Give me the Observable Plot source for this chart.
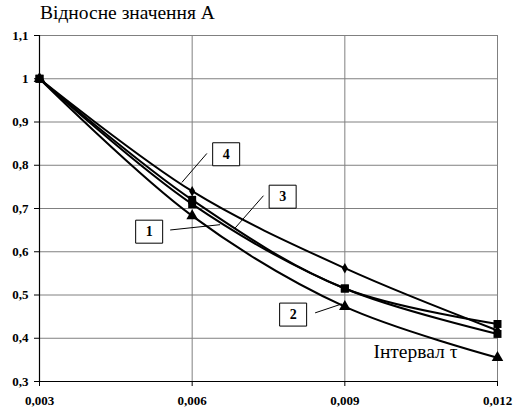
<!DOCTYPE html>
<html>
<head>
<meta charset="utf-8">
<script src="https://cdn.jsdelivr.net/npm/d3@7"></script>
<script src="https://cdn.jsdelivr.net/npm/@observablehq/plot@0.6"></script>
<style>
  html, body { margin: 0; padding: 0; background: #fff; }
  #title { height: 28px; line-height: 25px; padding-left: 40px; font-family: "Liberation Serif", serif;
           font-size: 19.5px; color: #000; white-space: nowrap; }
  #chart svg { display: block; }
</style>
</head>
<body>
<div id="title"></div>
<div id="chart"></div>
<script>
// ---- data ----
const titleText = "Відносне значення А";
const xLabelText = "Інтервал τ";
const xTicks = [0.003, 0.006, 0.009, 0.012];
const yTicks = [0.3, 0.4, 0.5, 0.6, 0.7, 0.8, 0.9, 1, 1.1];

const xValues = [0.003, 0.006, 0.009, 0.012];
const series1 = [1, 0.71, 0.515, 0.41];   // squares
const series2 = [1, 0.683, 0.473, 0.355]; // triangles
const series3 = [1, 0.72, 0.515, 0.433];  // squares
const series4 = [1, 0.74, 0.562, 0.418];  // diamonds

// callout labels (data coordinates)
const labelNames = ["1", "2", "3", "4"];
const labelX = [0.005155, 0.007984, 0.007778, 0.006668];
const labelY = [0.6464, 0.4547, 0.7273, 0.8254];
const leaderX1 = [0.005568, 0.008416, 0.007401, 0.006289];
const leaderY1 = [0.6503, 0.4587, 0.7296, 0.8273];
const leaderX2 = [0.00655, 0.008941, 0.006845, 0.005798];
const leaderY2 = [0.6626, 0.4794, 0.655, 0.7603];

// ---- tables built from the arrays ----
const seriesList = [
  {name: "4", values: series4, symbol: "diamond", r: 3.2},
  {name: "1", values: series1, symbol: "square", r: 4.5},
  {name: "3", values: series3, symbol: "square", r: 4.5},
  {name: "2", values: series2, symbol: "triangle", r: 4.3}
];
const rows = seriesList.flatMap(s => xValues.map((x, i) => ({series: s.name, x: x, y: s.values[i]})));
const labels = labelNames.map((n, i) => ({
  name: n, x: labelX[i], y: labelY[i],
  x1: leaderX1[i], y1: leaderY1[i], x2: leaderX2[i], y2: leaderY2[i]
}));

document.getElementById("title").textContent = titleText;

const fmt = d => String(d).replace(".", ",");
const boxSymbol = { draw(ctx) { ctx.rect(-13.5, -11.5, 27, 23); } };
const FONT = "Liberation Serif";

const marks = [
  Plot.gridY({ticks: yTicks, stroke: "#808080", strokeOpacity: 1}),
  Plot.gridX({ticks: xTicks, stroke: "#808080", strokeOpacity: 1}),
  Plot.axisY({ticks: yTicks, tickSize: 5, tickPadding: 6, tickFormat: fmt, label: null,
              fontSize: 13, fontWeight: "bold", fontFamily: FONT}),
  Plot.axisX({ticks: xTicks, tickSize: 5, tickPadding: 9, tickFormat: fmt, label: null,
              fontSize: 13, fontWeight: "bold", fontFamily: FONT}),
  Plot.ruleX([xTicks[0]], {stroke: "#000", strokeWidth: 1.2}),
  Plot.ruleY([yTicks[0]], {stroke: "#000", strokeWidth: 1.2})
];
for (const s of seriesList) {
  const d = rows.filter(r => r.series === s.name);
  marks.push(Plot.line(d, {x: "x", y: "y", curve: "catmull-rom", stroke: "#000", strokeWidth: 2}));
}
for (const s of seriesList) {
  const d = rows.filter(r => r.series === s.name);
  marks.push(Plot.dot(d, {x: "x", y: "y", symbol: s.symbol, r: s.r, fill: "#000", stroke: "none"}));
}
marks.push(
  Plot.link(labels, {x1: "x1", y1: "y1", x2: "x2", y2: "y2", stroke: "#000", strokeWidth: 1}),
  Plot.dot(labels, {x: "x", y: "y", symbol: boxSymbol, fill: "#fff", stroke: "#000", strokeWidth: 1}),
  Plot.text(labels, {x: "x", y: "y", text: "name", fontWeight: "bold", fontSize: 14, fontFamily: FONT, fill: "#000"}),
  Plot.text([xLabelText], {frameAnchor: "bottom-right", text: d => d, textAnchor: "end",
    lineAnchor: "bottom", dx: -40, dy: -24, fontSize: 19.5, fontWeight: "normal", fontFamily: FONT, fill: "#000"})
);

const chart = Plot.plot({
  width: 515,
  height: 384,
  marginLeft: 39,
  marginRight: 18,
  marginTop: 7,
  marginBottom: 31,
  style: {background: "#fff", color: "#000"},
  x: {domain: [0.003, 0.012]},
  y: {domain: [0.3, 1.1]},
  marks: marks
});
// make the serif font explicit on every text element
d3.select(chart).attr("font-family", FONT);
d3.select(chart).selectAll("text").attr("font-family", FONT).style("font-family", FONT);
document.getElementById("chart").appendChild(chart);
</script>
</body>
</html>
